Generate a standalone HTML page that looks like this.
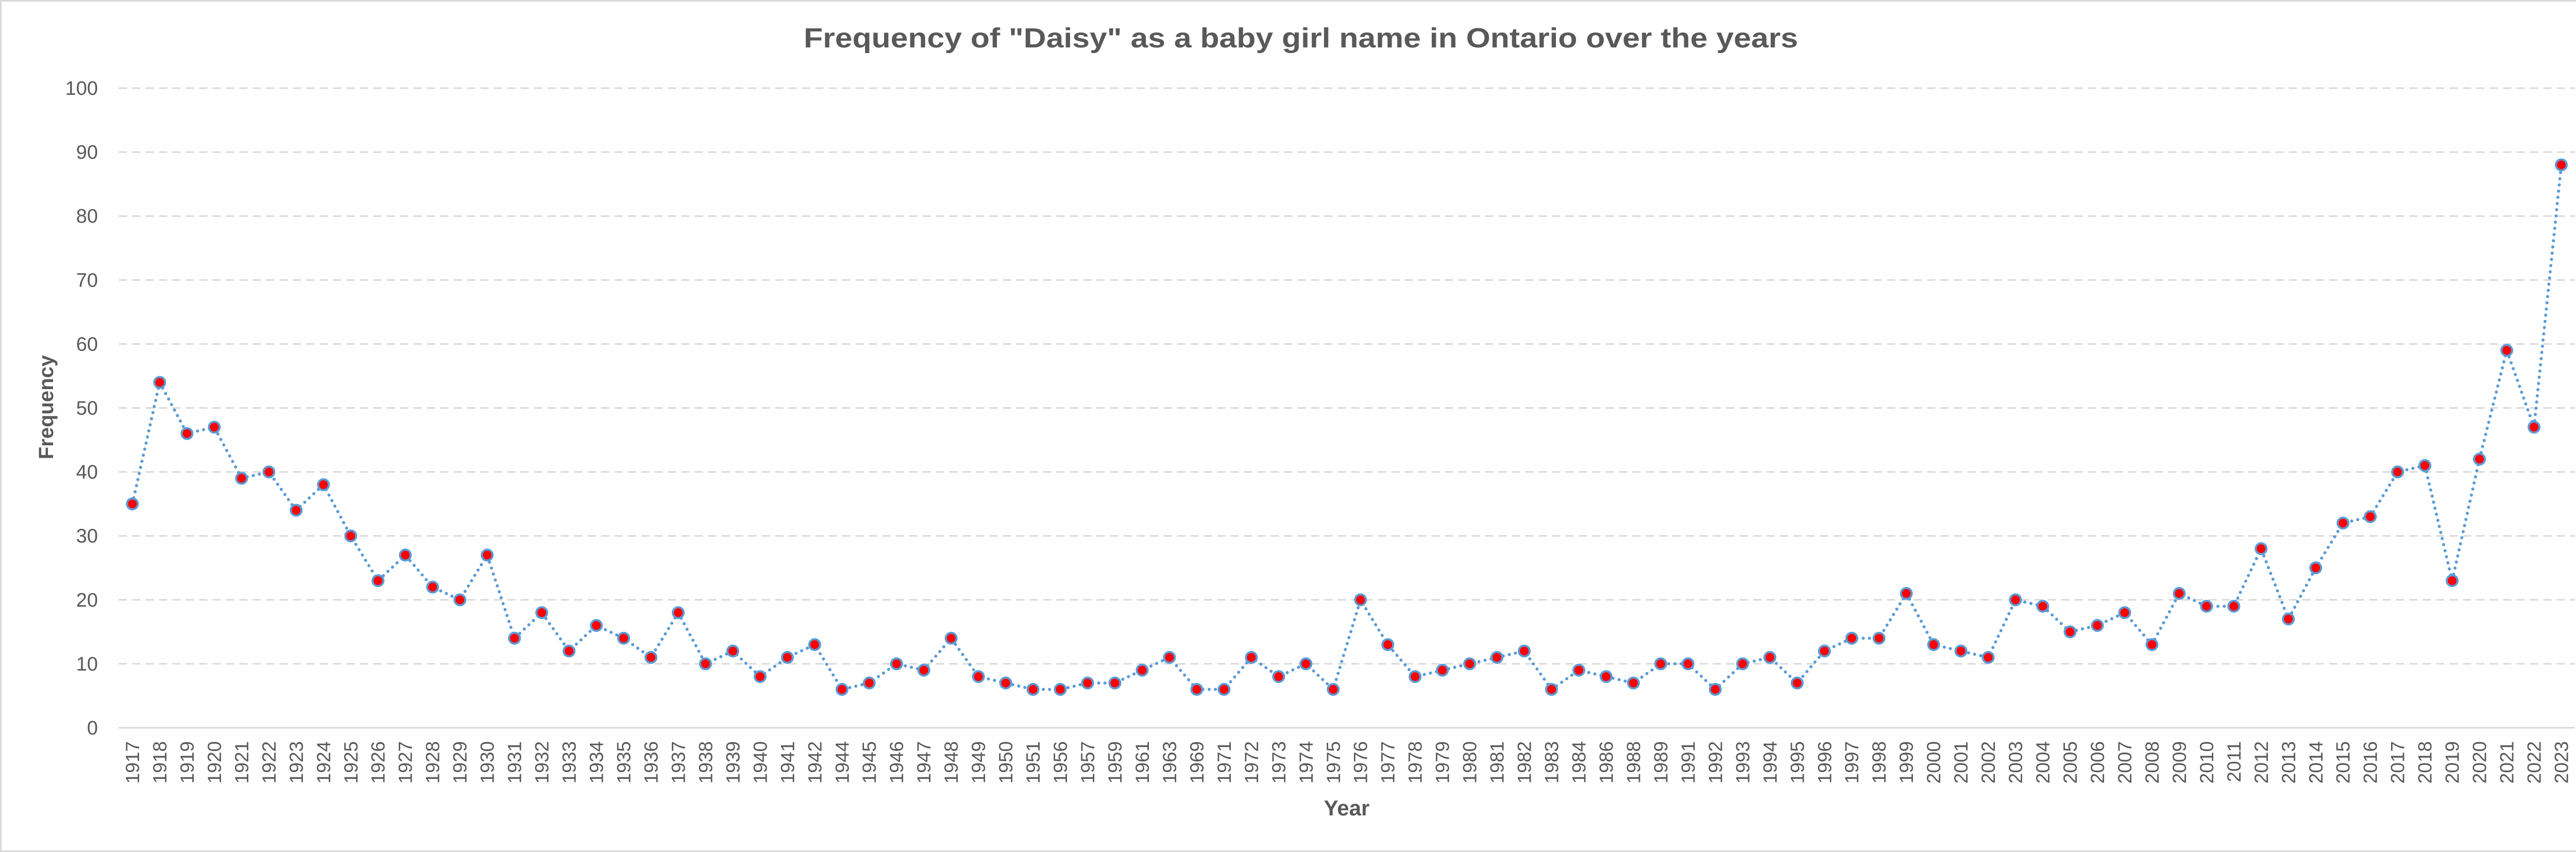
<!DOCTYPE html>
<html><head><meta charset="utf-8"><style>
html,body{margin:0;padding:0;background:#fff}
svg{display:block}
text{font-family:"Liberation Sans",sans-serif}
</style></head><body>
<svg id="chart" width="5050" height="1653" viewBox="0 0 5050 1653" xmlns="http://www.w3.org/2000/svg">
<rect x="1.5" y="1.5" width="5047" height="1650" fill="#fff" stroke="#d9d9d9" stroke-width="3"/>
<text x="2525" y="92" text-anchor="middle" font-size="54" font-weight="bold" fill="#595959" textLength="1930" lengthAdjust="spacingAndGlyphs">Frequency of "Daisy" as a baby girl name in Ontario over the years</text>
<text transform="translate(103,790) rotate(-90)" text-anchor="middle" font-size="40" font-weight="bold" fill="#595959">Frequency</text>
<text x="2614" y="1582" text-anchor="middle" font-size="42" font-weight="bold" fill="#595959">Year</text>
<g id="grid"></g><g id="yticks"></g><g id="xticks"></g><g id="series"></g>
</svg>
<script>
const years=[1917,1918,1919,1920,1921,1922,1923,1924,1925,1926,1927,1928,1929,1930,1931,1932,1933,1934,1935,1936,1937,1938,1939,1940,1941,1942,1944,1945,1946,1947,1948,1949,1950,1951,1956,1957,1959,1961,1963,1969,1971,1972,1973,1974,1975,1976,1977,1978,1979,1980,1981,1982,1983,1984,1986,1988,1989,1991,1992,1993,1994,1995,1996,1997,1998,1999,2000,2001,2002,2003,2004,2005,2006,2007,2008,2009,2010,2011,2012,2013,2014,2015,2016,2017,2018,2019,2020,2021,2022,2023];
const counts=[35,54,46,47,39,40,34,38,30,23,27,22,20,27,14,18,12,16,14,11,18,10,12,8,11,13,6,7,10,9,14,8,7,6,6,7,7,9,11,6,6,11,8,10,6,20,13,8,9,10,11,12,6,9,8,7,10,10,6,10,11,7,12,14,14,21,13,12,11,20,19,15,16,18,13,21,19,19,28,17,25,32,33,40,41,23,42,59,47,88];
const yTicks=[0,10,20,30,40,50,60,70,80,90,100];
const NS="http://www.w3.org/2000/svg";
const L=230.5,R=4998,T=171,B=1412,YMAX=100;
const step=(R-L)/years.length;
function xPos(i){return L+step*(i+0.5);}
function yPos(v){return B-(v/YMAX)*(B-T);}
function mk(tag,attrs,parent){const e=document.createElementNS(NS,tag);for(const k in attrs)e.setAttribute(k,attrs[k]);parent.appendChild(e);return e;}
const grid=document.getElementById('grid'),yt=document.getElementById('yticks'),xt=document.getElementById('xticks'),ser=document.getElementById('series');
yTicks.forEach(v=>{
  if(v>0){
    const g=mk('line',{x1:L,x2:R,y1:yPos(v),y2:yPos(v),stroke:'#d9d9d9','stroke-width':3,'stroke-dasharray':'16 10'},grid);
    
    
  }
  const t=mk('text',{x:190,y:yPos(v)+13,'text-anchor':'end','font-size':38,fill:'#595959'},yt);
  t.textContent=v;
  
  
});
const ax=mk('line',{x1:L,x2:R,y1:B,y2:B,stroke:'#d9d9d9','stroke-width':3},grid);


years.forEach((yr,i)=>{
  const t=mk('text',{transform:`translate(${xPos(i)+13},1438) rotate(-90)`,'text-anchor':'end','font-size':37,fill:'#595959'},xt);
  t.textContent=yr;
  
  
});
const pts=counts.map((v,i)=>xPos(i)+','+yPos(v)).join(' ');
const line=mk('polyline',{points:pts,fill:'none',stroke:'#5b9bd5','stroke-width':6,'stroke-linecap':'round','stroke-dasharray':'0.1 12'},ser);


counts.forEach((v,i)=>{
  const c=mk('circle',{cx:xPos(i),cy:yPos(v),r:10.5,fill:'#ff0000',stroke:'#5b9bd5','stroke-width':4},ser);
  
  
});
</script>
</body></html>
